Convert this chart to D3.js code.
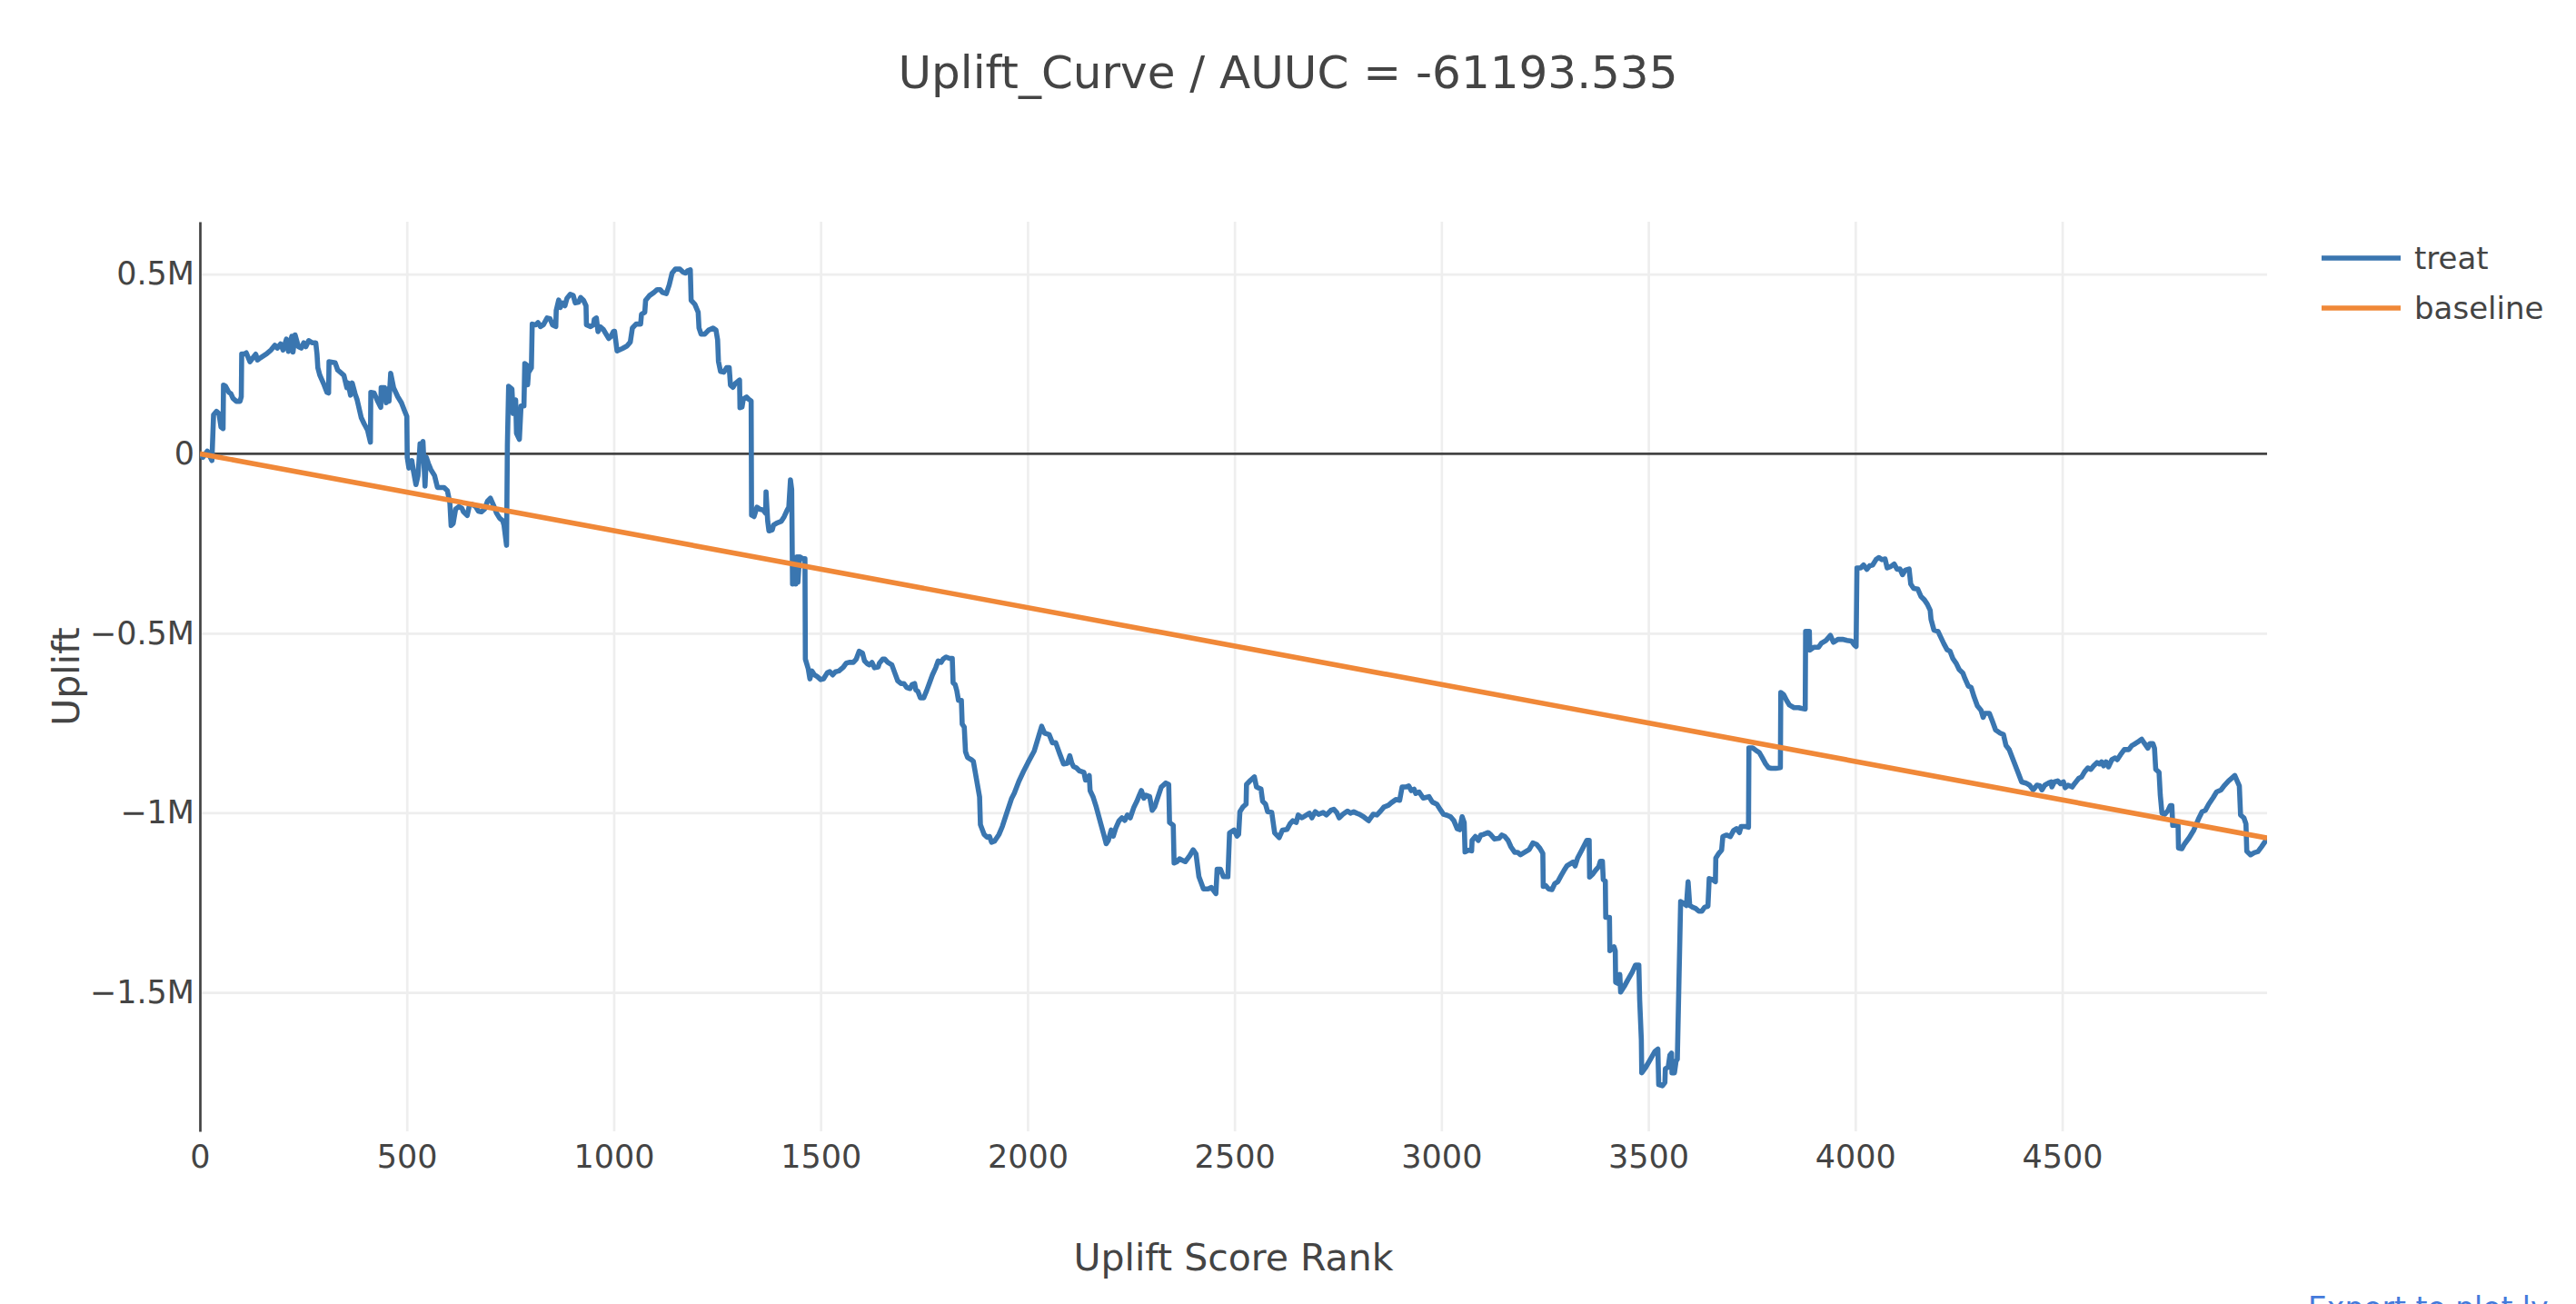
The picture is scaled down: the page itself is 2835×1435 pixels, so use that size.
<!DOCTYPE html>
<html>
<head>
<meta charset="utf-8">
<script src="https://cdn.jsdelivr.net/npm/d3@7"></script>
<style>
  body { margin: 0; background: #fff; }
  svg text { font-family: Verdana, "DejaVu Sans", sans-serif; fill: #444; }
</style>
</head>
<body>
<svg id="chart"></svg>
<script>
// uplift values are in thousands
const seriesNames = ["treat", "baseline"];
const xTicks = [0, 500, 1000, 1500, 2000, 2500, 3000, 3500, 4000, 4500];
const yTicks = [500, 0, -500, -1000, -1500];
const yTickLabels = ["0.5M", "0", "\u22120.5M", "\u22121M", "\u22121.5M"];

const treat = [
  [0,0],[7,-10],[18,7],[29,-19],[33,108],[40,118],[46,112],[51,74],[56,70],[57,191],[62,188],[70,171],[75,167],[80,154],[88,146],[97,146],[100,159],[101,278],[108,278],[112,281],[121,256],[128,267],[135,277],[139,261],[146,267],[161,278],[172,289],[181,302],[187,294],[195,306],[201,289],[209,319],[214,285],[222,327],[225,283],[230,331],[238,298],[245,294],[251,309],[256,298],[263,315],[271,309],[280,309],[283,277],[285,239],[290,218],[300,192],[307,171],[311,169],[312,256],[327,253],[333,233],[340,226],[348,218],[355,184],[358,197],[364,163],[368,197],[375,167],[380,150],[390,100],[397,83],[405,66],[412,32],[413,171],[421,169],[428,150],[437,129],[438,184],[446,184],[450,142],[453,180],[457,146],[461,224],[468,184],[478,159],[487,142],[494,121],[500,104],[501,-10],[505,-40],[512,-19],[516,-48],[522,-86],[527,-61],[530,-10],[532,28],[536,-2],[539,34],[544,-90],[547,-10],[552,-27],[558,-44],[567,-61],[574,-94],[590,-94],[598,-103],[604,-137],[607,-200],[612,-194],[618,-154],[626,-147],[633,-152],[637,-162],[646,-172],[651,-145],[658,-141],[666,-147],[673,-160],[680,-162],[688,-154],[695,-132],[702,-124],[710,-145],[717,-166],[724,-179],[732,-187],[735,-200],[741,-255],[743,24],[746,188],[754,180],[757,112],[763,150],[765,57],[772,40],[776,133],[783,133],[785,251],[790,247],[792,192],[794,226],[801,239],[803,361],[812,359],[817,365],[823,354],[830,359],[839,378],[846,376],[852,359],[860,354],[861,399],[867,428],[871,407],[876,420],[882,412],[887,433],[895,444],[902,441],[907,420],[915,422],[920,435],[927,427],[933,412],[934,359],[944,354],[951,359],[953,374],[958,378],[962,340],[968,353],[975,346],[980,336],[988,321],[993,326],[999,340],[1002,341],[1008,286],
  [1021,293],[1032,300],[1040,311],[1045,350],[1054,361],[1065,361],[1067,388],[1075,394],[1077,427],[1086,440],[1097,449],[1105,457],[1112,457],[1118,449],[1127,446],[1134,470],[1141,503],[1149,514],[1160,514],[1167,506],[1174,503],[1178,509],[1185,512],[1187,427],[1196,416],[1204,394],[1206,350],[1211,333],[1220,333],[1229,344],[1240,350],[1247,344],[1251,317],[1253,257],[1258,229],[1266,227],[1273,240],[1279,240],[1282,191],[1288,185],[1294,196],[1304,205],[1305,128],[1310,130],[1313,152],[1321,158],[1326,152],[1332,147],[1333,-171],[1339,-175],[1346,-149],[1354,-155],[1361,-157],[1367,-166],[1368,-106],[1372,-188],[1375,-215],[1383,-212],[1386,-199],[1394,-193],[1405,-188],[1412,-175],[1419,-157],[1423,-149],[1427,-73],[1430,-100],[1432,-363],[1435,-287],[1440,-363],[1443,-287],[1445,-358],[1449,-287],[1456,-292],[1462,-292],[1463,-572],[1470,-599],[1474,-627],[1479,-605],[1485,-616],[1492,-621],[1500,-629],[1507,-627],[1516,-610],[1522,-607],[1529,-616],[1536,-607],[1544,-605],[1555,-594],[1562,-583],[1569,-581],[1579,-581],[1586,-572],[1593,-550],[1601,-555],[1606,-577],[1613,-585],[1618,-588],[1624,-581],[1630,-596],[1639,-594],[1642,-583],[1650,-572],[1655,-572],[1662,-581],[1672,-588],[1679,-610],[1686,-632],[1694,-640],[1701,-640],[1708,-651],[1716,-654],[1721,-643],[1727,-640],[1730,-658],[1735,-662],[1741,-680],[1749,-680],[1756,-660],[1763,-638],[1770,-616],[1778,-596],[1784,-577],[1791,-581],[1796,-572],[1803,-566],[1811,-570],[1818,-570],[1820,-638],[1825,-643],[1829,-660],[1833,-687],[1840,-687],[1842,-753],[1847,-761],[1850,-830],[1855,-846],[1864,-852],[1869,-857],[1874,-890],[1879,-923],[1884,-956],[1886,-1033],[1895,-1060],[1902,-1068],[1908,-1066],[1913,-1082],[1920,-1079],[1931,-1060],[1939,-1038],[1950,-999],[1961,-961],[1968,-945],[1979,-912],[1990,-885],[2001,-860],
  [2016,-828],[2027,-786],[2034,-759],[2041,-778],[2052,-782],[2060,-805],[2068,-805],[2078,-837],[2087,-864],[2096,-862],[2102,-841],[2107,-862],[2111,-871],[2118,-875],[2125,-883],[2136,-887],[2140,-909],[2149,-896],[2151,-938],[2158,-955],[2166,-984],[2177,-1031],[2184,-1060],[2190,-1086],[2195,-1077],[2202,-1048],[2207,-1065],[2213,-1043],[2221,-1022],[2228,-1014],[2235,-1021],[2241,-1006],[2248,-1014],[2257,-984],[2264,-968],[2270,-951],[2275,-938],[2281,-959],[2286,-951],[2295,-955],[2301,-993],[2307,-984],[2314,-959],[2323,-928],[2334,-917],[2341,-921],[2343,-1027],[2352,-1035],[2354,-1140],[2361,-1136],[2367,-1128],[2374,-1132],[2381,-1136],[2392,-1119],[2400,-1103],[2407,-1115],[2414,-1178],[2425,-1212],[2436,-1212],[2444,-1208],[2455,-1225],[2458,-1157],[2466,-1157],[2473,-1178],[2484,-1178],[2488,-1056],[2499,-1048],[2506,-1065],[2510,-1060],[2513,-997],[2520,-984],[2528,-976],[2529,-921],[2539,-909],[2548,-900],[2553,-928],[2564,-934],[2568,-968],[2575,-976],[2580,-997],[2590,-999],[2597,-1056],[2608,-1069],[2616,-1048],[2627,-1046],[2634,-1031],[2641,-1022],[2649,-1027],[2654,-1006],[2663,-1014],[2674,-1006],[2681,-1001],[2687,-1014],[2695,-997],[2703,-1004],[2714,-999],[2722,-1006],[2733,-993],[2740,-990],[2747,-999],[2753,-1014],[2762,-1004],[2773,-995],[2780,-1001],[2788,-997],[2795,-1001],[2802,-1004],[2813,-1012],[2824,-1022],[2835,-1004],[2844,-1006],[2853,-995],[2861,-984],[2872,-979],[2879,-972],[2890,-963],[2899,-965],[2905,-928],[2914,-928],[2921,-925],[2927,-938],[2934,-934],[2938,-946],[2946,-942],[2956,-959],[2970,-955],[2978,-970],[2989,-976],[2996,-989],[3005,-1004],
  [3014,-1007],[3022,-1011],[3030,-1022],[3038,-1044],[3044,-1047],[3050,-1011],[3055,-1027],[3057,-1109],[3066,-1104],[3073,-1106],[3074,-1077],[3082,-1066],[3089,-1077],[3095,-1062],[3102,-1060],[3113,-1055],[3120,-1062],[3128,-1073],[3139,-1071],[3146,-1062],[3153,-1066],[3161,-1077],[3168,-1095],[3177,-1110],[3184,-1110],[3191,-1117],[3201,-1110],[3212,-1102],[3221,-1084],[3230,-1088],[3238,-1099],[3245,-1113],[3246,-1205],[3252,-1203],[3259,-1212],[3267,-1214],[3274,-1197],[3281,-1192],[3289,-1175],[3296,-1161],[3303,-1148],[3311,-1142],[3318,-1137],[3323,-1148],[3329,-1126],[3340,-1102],[3351,-1077],[3357,-1077],[3358,-1179],[3366,-1170],[3373,-1159],[3380,-1150],[3384,-1135],[3389,-1135],[3391,-1186],[3396,-1190],[3397,-1291],[3406,-1291],[3407,-1384],[3417,-1373],[3420,-1384],[3421,-1472],[3430,-1477],[3431,-1450],[3433,-1499],[3442,-1483],[3450,-1466],[3461,-1444],[3469,-1424],[3477,-1424],[3479,-1521],[3483,-1631],[3484,-1724],[3494,-1708],[3505,-1686],[3516,-1664],[3523,-1658],[3525,-1757],[3534,-1760],[3540,-1751],[3541,-1713],[3548,-1708],[3552,-1675],[3556,-1669],[3557,-1724],[3563,-1724],[3567,-1691],[3570,-1686],[3574,-1466],[3578,-1247],[3585,-1252],[3592,-1258],[3596,-1192],[3600,-1258],[3607,-1263],[3614,-1266],[3622,-1274],[3629,-1274],[3636,-1263],[3644,-1260],[3647,-1183],[3655,-1186],[3662,-1192],[3663,-1126],[3669,-1115],[3677,-1104],[3680,-1066],[3689,-1062],[3698,-1066],[3706,-1049],[3713,-1044],[3720,-1055],[3724,-1038],[3735,-1038],[3742,-1040],[3743,-819],[3752,-819],[3761,-827],[3768,-832],[3775,-846],[3783,-863],[3790,-874],[3797,-876],[3808,-876],[3819,-874],[3820,-665],[3827,-671],[3834,-687],[3841,-700],[3852,-707],[3863,-707],[3870,-709],[3879,-711],[3880,-495],[3889,-495],[3890,-547],[3900,-539],[3911,-539],[3918,-528],[3929,-520],[3940,-506],[3947,-525],[3958,-517],[3969,-517],[3980,-520],[3991,-522],[3998,-533],[4002,-537],
  [4004,-318],[4013,-318],[4020,-310],[4028,-322],[4035,-312],[4042,-310],[4050,-295],[4057,-289],[4064,-295],[4072,-293],[4077,-318],[4086,-314],[4094,-307],[4101,-322],[4108,-321],[4114,-337],[4121,-324],[4130,-321],[4134,-363],[4141,-375],[4151,-377],[4159,-398],[4167,-407],[4174,-419],[4181,-436],[4183,-461],[4190,-491],[4200,-495],[4207,-512],[4214,-529],[4222,-546],[4229,-550],[4236,-571],[4244,-584],[4251,-601],[4260,-611],[4265,-626],[4273,-647],[4280,-651],[4287,-677],[4295,-702],[4304,-715],[4309,-734],[4313,-723],[4324,-723],[4331,-744],[4339,-769],[4350,-778],[4358,-782],[4364,-812],[4372,-824],[4379,-845],[4386,-866],[4393,-887],[4402,-914],[4412,-917],[4421,-923],[4430,-936],[4439,-923],[4446,-925],[4451,-936],[4458,-923],[4467,-917],[4473,-914],[4475,-928],[4481,-914],[4489,-911],[4496,-919],[4503,-914],[4507,-930],[4514,-923],[4524,-928],[4531,-917],[4540,-904],[4547,-900],[4554,-886],[4562,-875],[4569,-879],[4576,-869],[4584,-860],[4590,-864],[4595,-858],[4600,-869],[4606,-858],[4612,-872],[4620,-852],[4628,-847],[4633,-852],[4641,-838],[4650,-824],[4661,-824],[4668,-813],[4677,-807],[4685,-801],[4692,-795],[4699,-807],[4707,-820],[4712,-807],[4719,-807],[4723,-820],[4726,-879],[4734,-887],[4737,-951],[4741,-1001],[4748,-1004],[4756,-993],[4761,-980],[4765,-980],[4767,-1035],[4780,-1035],[4781,-1098],[4789,-1100],[4796,-1086],[4807,-1069],[4818,-1048],[4829,-1018],[4838,-997],[4846,-993],[4854,-976],[4865,-957],[4873,-942],[4884,-936],[4891,-925],[4902,-911],[4909,-904],[4917,-896],[4928,-925],[4931,-1006],[4939,-1014],[4944,-1031],[4946,-1107],[4955,-1117],[4964,-1111],[4973,-1108],[4982,-1094],[4992,-1077],[4995,-1070]
];
const baseline = [[0, 0], [4995, -1070]];

const width = 2835;
const height = 1435;
const margin = {top: 244, right: 340, bottom: 190, left: 220};
const colors = ["rgb(58,118,176)", "rgb(240,136,56)"];

const svg = d3.select("#chart")
    .attr("width", width)
    .attr("height", height);

const x = d3.scaleLinear()
    .domain([0, 4995])
    .range([margin.left, width - margin.right]);

const y = d3.scaleLinear()
    .domain([-1887, 646])
    .range([height - margin.bottom, margin.top]);

const innerH = height - margin.top - margin.bottom;
const innerW = width - margin.left - margin.right;

// grid
svg.append("g")
    .attr("transform", `translate(0,${height - margin.bottom})`)
    .call(d3.axisBottom(x).tickValues(xTicks).tickSize(-innerH).tickFormat(""))
    .call(g => g.select(".domain").remove())
    .call(g => g.selectAll("line").attr("stroke", "#eee").attr("stroke-width", 2.7));

svg.append("g")
    .attr("transform", `translate(${margin.left},0)`)
    .call(d3.axisLeft(y).tickValues(yTicks.filter(d => d !== 0)).tickSize(-innerW).tickFormat(""))
    .call(g => g.select(".domain").remove())
    .call(g => g.selectAll("line").attr("stroke", "#eee").attr("stroke-width", 2.7));

// zero line
svg.append("line")
    .attr("x1", x(0)).attr("x2", width - margin.right)
    .attr("y1", y(0)).attr("y2", y(0))
    .attr("stroke", "#444")
    .attr("stroke-width", 2.7);

// tick labels
svg.append("g")
    .attr("transform", `translate(0,${height - margin.bottom})`)
    .call(d3.axisBottom(x).tickValues(xTicks).tickSize(0).tickPadding(15).tickFormat(d3.format("d")))
    .call(g => g.select(".domain").remove())
    .attr("font-size", 35)
    .attr("font-family", null);

svg.append("g")
    .attr("transform", `translate(${margin.left},0)`)
    .call(d3.axisLeft(y).tickValues(yTicks).tickSize(0).tickSizeOuter(0).tickPadding(6)
        .tickFormat((d, i) => yTickLabels[i]))
    .call(g => g.select(".domain").attr("stroke", "#444").attr("stroke-width", 2.7))
    .attr("font-size", 35)
    .attr("font-family", null);

// lines
svg.append("clipPath").attr("id", "plot-clip")
    .append("rect")
    .attr("x", margin.left).attr("y", margin.top)
    .attr("width", innerW).attr("height", innerH);

const line = d3.line()
    .x(d => x(d[0]))
    .y(d => y(d[1]));

svg.append("g")
    .attr("clip-path", "url(#plot-clip)")
    .selectAll("path")
    .data([treat, baseline])
    .enter().append("path")
    .attr("d", line)
    .attr("fill", "none")
    .attr("stroke", (d, i) => colors[i])
    .attr("stroke-width", 5.6)
    .attr("stroke-linejoin", "round");

// legend
const legend = svg.append("g")
    .selectAll("g")
    .data(seriesNames)
    .enter().append("g")
    .attr("transform", (d, i) => `translate(2555,${284 + i * 55})`);

legend.append("line")
    .attr("x1", 0).attr("x2", 87)
    .attr("stroke", (d, i) => colors[i])
    .attr("stroke-width", 5.6);

legend.append("text")
    .attr("x", 102)
    .attr("dy", "0.35em")
    .attr("font-size", 34)
    .text(d => d);

// titles
svg.append("text")
    .attr("x", width / 2)
    .attr("y", 97)
    .attr("text-anchor", "middle")
    .attr("font-size", 50)
    .text("Uplift_Curve / AUUC = -61193.535");

svg.append("text")
    .attr("x", margin.left + innerW / 2)
    .attr("y", 1398)
    .attr("text-anchor", "middle")
    .attr("font-size", 41)
    .text("Uplift Score Rank");

svg.append("text")
    .attr("transform", `translate(87,${margin.top + innerH / 2}) rotate(-90)`)
    .attr("text-anchor", "middle")
    .attr("font-size", 41)
    .text("Uplift");

svg.append("text")
    .attr("x", 2540)
    .attr("y", 1451)
    .attr("font-size", 33)
    .style("fill", "#447adb")
    .text("Export to plot.ly");
</script>
</body>
</html>
